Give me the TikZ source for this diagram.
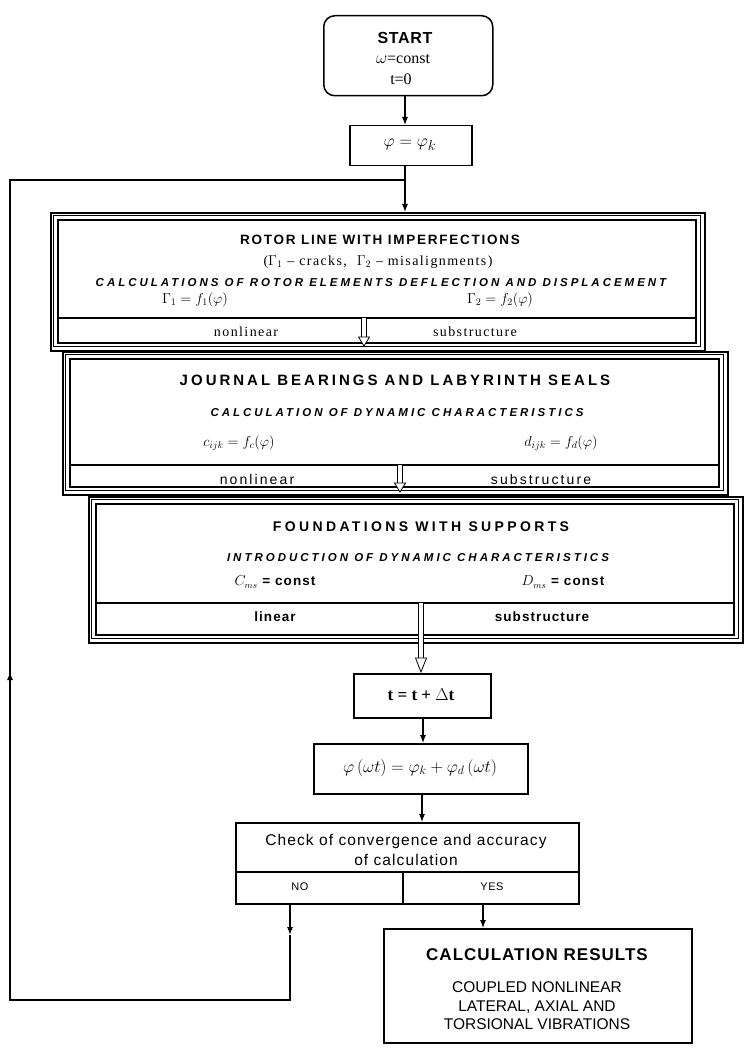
\documentclass[tikz,border=0pt]{standalone}
\usepackage{fontspec}
\setmainfont{Liberation Serif}
\setsansfont{Liberation Sans}
\usetikzlibrary{arrows.meta}
\tikzset{
  box/.style={draw, line width=1.5pt, fill=white, inner sep=0pt, anchor=north west},
  outerframe/.style={draw, line width=2.2pt, fill=white, inner sep=0pt, anchor=north west},
  frameline/.style={line width=0.8pt},
  innerframe/.style={line width=1.2pt},
  sepline/.style={line width=1.1pt},
  arr/.style={-{Latex[length=8pt,width=6pt]}, line width=1.1pt},
  ln/.style={line width=1.1pt},
  ttlA/.style={font=\sffamily\bfseries\fontsize{13.5}{16}\selectfont\addfontfeature{LetterSpace=13}},
  ttlB/.style={font=\sffamily\bfseries\fontsize{15}{18}\selectfont\addfontfeature{LetterSpace=20}},
  ttlC/.style={font=\sffamily\bfseries\fontsize{14}{17}\selectfont\addfontfeature{LetterSpace=24}},
  ital/.style={font=\sffamily\bfseries\itshape\fontsize{11.5}{14}\selectfont\addfontfeature{LetterSpace=26}},
  serifl/.style={font=\rmfamily\fontsize{14}{16}\selectfont\addfontfeature{LetterSpace=10}},
  sansl/.style={font=\sffamily\bfseries\fontsize{13.5}{16}\selectfont\addfontfeature{LetterSpace=8}},
  sansr/.style={font=\sffamily\fontsize{14}{16}\selectfont\addfontfeature{LetterSpace=15}},
}
\newcommand\bigframe[5]{%
  \node[outerframe, minimum width={#4-#2}, minimum height={#5-#3}] (#1) at (#2,#3) {};
  \draw[frameline] (#2+3.5,#3+3.5) rectangle (#4-3.5,#5-3.5);
  \draw[innerframe] (#2+8,#3+8) rectangle (#4-8,#5-7);
}
\newcommand\hollowarrow[4]{% x, ytop, ybase of head, ytip
  \fill[white] (#1-3,#2) rectangle (#1+3,#3);
  \draw[line width=0.8pt] (#1-2.5,#2) -- (#1-2.5,#3) (#1+2.5,#2) -- (#1+2.5,#3);
  \draw[line width=0.8pt, fill=white] (#1-5.5,#3) -- (#1+5.5,#3) -- (#1,#4) -- cycle;
}
\begin{document}
\begin{tikzpicture}[x=1pt,y=-1pt]
\path[use as bounding box, fill=white] (0,0) rectangle (744,1048);

% START
\node[box, rounded corners=11pt, minimum width=169, minimum height=80] (start) at (323,15) {};
\node[font=\sffamily\bfseries\fontsize{16}{18}\selectfont\addfontfeature{LetterSpace=4}] (starttxt) at (405,38) {START};
\node[font=\rmfamily\fontsize{16}{18}\selectfont] (omtxt) at (403,59) {$\omega$=const};
\node[font=\rmfamily\fontsize{16}{18}\selectfont] (ttxt) at (401,79) {t=0};

% phi_k
\node[box, minimum width=122, minimum height=40] (phik) at (349,125) {};
\node (phiktxt) at (410,145) {\fontsize{19}{21}\selectfont$\varphi = \varphi_k$};

\coordinate (j) at (405,180);

% BOX 1
\bigframe{b1}{50}{212}{704}{350}
\draw[sepline] (58,318) -- (696,318);
\node[ttlA] (b1t) at (380,240) {ROTOR LINE WITH IMPERFECTIONS};
\node[serifl] (b1a) at (378,262) {($\Gamma_1$ -- cracks,\ \ $\Gamma_2$ -- misalignments)};
\node[ital] (b1b) at (381,283) {CALCULATIONS OF ROTOR ELEMENTS DEFLECTION AND DISPLACEMENT};
\node[serifl] (b1c) at (195,300) {$\Gamma_1 = f_1(\varphi)$};
\node[serifl] (b1d) at (500,300) {$\Gamma_2 = f_2(\varphi)$};
\node[serifl] (b1e) at (246,332) {nonlinear};
\node[serifl] (b1f) at (475,332) {substructure};
\hollowarrow{364}{318}{337}{346}

% BOX 2
\bigframe{b2}{62}{351}{727}{494}
\draw[sepline] (70,465) -- (719,465);
\node[ttlB] (b2t) at (395,380) {JOURNAL BEARINGS AND LABYRINTH SEALS};
\node[ital] (b2b) at (397,413) {CALCULATION OF DYNAMIC CHARACTERISTICS};
\node[serifl] (b2c) at (239,443) {$c_{ijk} = f_c(\varphi)$};
\node[serifl] (b2d) at (561,443) {$d_{ijk} = f_d(\varphi)$};
\node[sansr] (b2e) at (257,479) {nonlinear};
\node[sansr] (b2f) at (541,479) {substructure};
\hollowarrow{400}{465}{483}{492}

% BOX 3
\bigframe{b3}{88}{496}{742}{642}
\draw[sepline] (96,603) -- (734,603);
\node[ttlC] (b3t) at (421,527) {FOUNDATIONS WITH SUPPORTS};
\node[ital] (b3b) at (418,558) {INTRODUCTION OF DYNAMIC CHARACTERISTICS};
\node[sansl] (b3c) at (275,582) {$C_{ms}$ = const};
\node[sansl] (b3d) at (563,582) {$D_{ms}$ = const};
\node[sansl] (b3e) at (275,617) {linear};
\node[sansl] (b3f) at (542,617) {substructure};

% t box
\node[box, minimum width=137, minimum height=44] (tbox) at (353,673) {};
\node[font=\rmfamily\bfseries\fontsize{17}{19}\selectfont] (ttx) at (421,695) {t = t + $\Delta$t};
\hollowarrow{421}{603}{658}{672}

% phi box
\node[box, minimum width=214, minimum height=50] (phib) at (313,743) {};
\node (phibt) at (420,768) {\fontsize{18}{20}\selectfont$\varphi\,(\omega t) = \varphi_k + \varphi_d\,(\omega t)$};

% check box
\node[box, minimum width=343, minimum height=81] (chk) at (235,822) {};
\draw[sepline] (chk.west |- 0,872) -- (chk.east |- 0,872);
\draw[sepline] (403,872) -- (403,903);
\node[align=center, font=\sffamily\fontsize{15.5}{20}\selectfont\addfontfeature{LetterSpace=7}] (chkt) at (406,850) {Check of convergence and accuracy\\of calculation};
\node[font=\sffamily\fontsize{11}{12}\selectfont\addfontfeature{LetterSpace=5}] (no) at (300,887) {NO};
\node[font=\sffamily\fontsize{11}{12}\selectfont\addfontfeature{LetterSpace=5}] (yes) at (492,887) {YES};

% results
\node[box, minimum width=308, minimum height=114] (res) at (383,928) {};
\node[font=\sffamily\bfseries\fontsize{17}{19}\selectfont\addfontfeature{LetterSpace=6}] (rest) at (537,955) {CALCULATION RESULTS};
\node[align=center, font=\sffamily\fontsize{15.5}{18.5}\selectfont] (resb) at (537,1006) {COUPLED NONLINEAR\\LATERAL, AXIAL AND\\TORSIONAL VIBRATIONS};

% connectors
\draw[arr] (j |- start.south) -- (j |- phik.north);
\draw[ln] (j |- phik.south) -- (j);
\draw[arr] (j) -- (j |- b1.north);
\draw[arr] (tbox.south -| 423,0) -- (phib.north -| 423,0);
\draw[arr] (phib.south -| 422,0) -- (chk.north -| 422,0);
\coordinate (yesb) at (483,903);
\draw[arr] (yesb) -- (yesb |- res.north);
\coordinate (nob) at (290,903);
\coordinate (noend) at (290,935);
\draw[arr] (nob) -- (noend);
\coordinate (lb) at (10,1000);
\draw[ln] (noend) -- (noend |- lb) -- (lb) -- (lb |- j) -- (j);
\draw[arr] (10,700) -- (10,672);
\end{tikzpicture}
\end{document}
